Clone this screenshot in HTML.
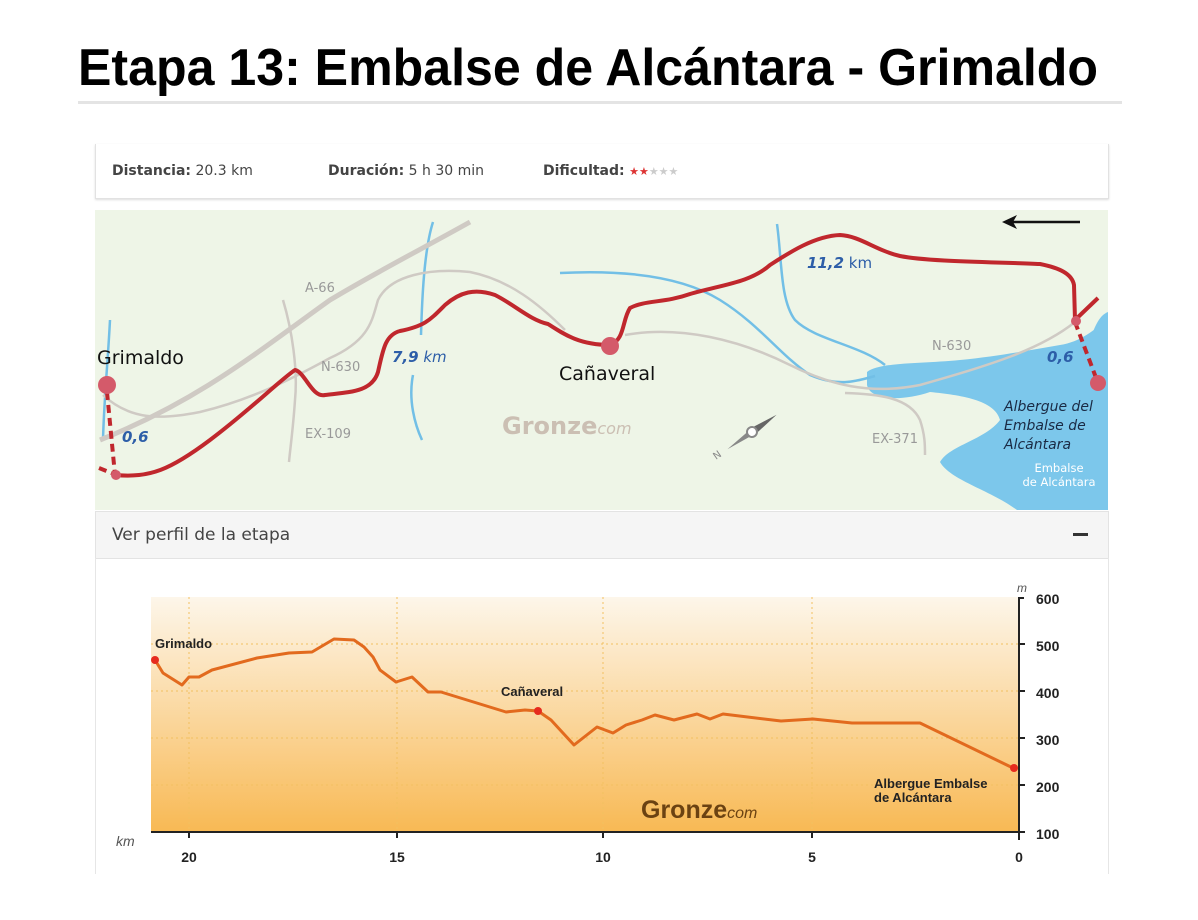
<!DOCTYPE html>
<html><head><meta charset="utf-8"><style>
body{margin:0;background:#fff;width:1198px;height:920px;overflow:hidden;position:relative;font-family:"Liberation Sans","DejaVu Sans",sans-serif}
.hr{position:absolute;left:78px;top:101px;width:1044px;height:3px;background:#e4e4e4}
.info{position:absolute;left:95px;top:144px;width:1012px;height:54px;border:1px solid #e2e2e2;border-top:none;box-shadow:0 1px 2px #ddd;font-family:"DejaVu Sans",sans-serif;font-size:14px;color:#444}
.info span{position:absolute;top:19px}
.bar{position:absolute;left:95px;top:511px;width:1012px;height:46px;background:#f5f5f5;border:1px solid #e3e3e3;font-family:"DejaVu Sans",sans-serif;font-size:17px;color:#444}
.prof{position:absolute;left:95px;top:558px;width:1012px;height:316px;border-left:1px solid #e6e6e6;border-right:1px solid #e6e6e6}
</style></head><body>
<div class="hr"></div>
<div class="info">
<span style="left:16px"><b>Distancia:</b> 20.3 km</span>
<span style="left:232px"><b>Duración:</b> 5 h 30 min</span>
<span style="left:447px"><b>Dificultad:</b> <span style="position:static;color:#d33;font-size:11px">★★</span><span style="position:static;color:#ccc;font-size:11px">★★★</span></span>
</div>
<svg style="position:absolute;left:0;top:0" width="1198" height="920">
<text x="78" y="85" font-size="52" font-weight="bold" font-family="Liberation Sans,sans-serif" fill="#000" textLength="1020" lengthAdjust="spacingAndGlyphs">Etapa 13: Embalse de Alcántara - Grimaldo</text>
<rect x="95" y="210" width="1013" height="300" fill="#eef5e7"/>
<path d="M867,372 C880,362 920,364 960,360 C1000,356 1030,350 1060,345 C1080,342 1095,330 1108,318 L1108,510 L1017,510 C990,490 950,480 940,462 C950,445 985,440 1000,420 C995,400 960,395 930,392 C900,402 870,400 867,385 Z" fill="#7cc7eb"/>
<path d="M1090,340 C1095,325 1100,315 1108,312 L1108,350 C1100,352 1092,350 1090,340Z" fill="#7cc7eb"/>
<g fill="none" stroke="#72bfe6" stroke-width="2.5">
<path d="M110,320 C108,360 104,400 103,440"/>
<path d="M433,222 C424,250 422,300 421,335 M413,375 C408,400 415,425 422,440"/>
<path d="M560,273 C620,270 680,275 720,300 C760,325 780,355 810,375 C840,388 860,380 875,376"/>
<path d="M777,224 C782,260 780,300 795,320 C815,340 860,345 885,365"/>
</g>
<g fill="none" stroke="#cfcac4" stroke-width="2.5">
<path d="M103,395 C130,420 160,420 200,412 C250,400 290,380 330,358 C370,340 372,320 378,300 C390,275 430,268 470,272 C510,280 540,305 565,330"/>
<path d="M625,335 C680,325 740,340 790,365 C830,385 870,395 920,385 C990,365 1040,350 1075,322"/>
<path d="M845,393 C880,394 910,398 920,420 C925,435 925,445 925,455"/>
<path d="M283,300 C292,330 298,370 295,400 C293,430 290,450 289,462"/>
</g>
<path d="M470,222 C420,250 380,270 330,300 C260,350 200,400 100,440" fill="none" stroke="#cfcac4" stroke-width="5"/>
<path d="M115,475 C150,478 170,470 210,440 C250,410 280,380 295,370 C305,372 312,398 325,395 C350,392 372,392 378,372 C383,350 385,335 400,331 C425,326 430,320 445,305 C460,292 475,288 495,295 C515,305 530,320 548,324 C565,335 580,345 610,345 C625,340 622,320 630,308 C645,300 665,303 690,294 C720,285 750,283 770,265 C790,252 815,236 840,235 C860,236 875,250 900,256 C930,262 1000,262 1040,264 C1060,268 1072,274 1074,285 L1075,320 L1098,298" fill="none" stroke="#c0272d" stroke-width="4" stroke-linejoin="round"/>
<g stroke="#c0272d" stroke-width="4" stroke-dasharray="8,5" fill="none">
<path d="M107,392 L115,475"/><path d="M99,468 L114,474"/><path d="M1075,322 L1098,383"/>
</g>
<g fill="#d45a6a"><circle cx="107" cy="385" r="9"/><circle cx="610" cy="346" r="9"/><circle cx="1098" cy="383" r="8"/><circle cx="1076" cy="321" r="5"/><circle cx="116" cy="475" r="5"/></g>
<path d="M1080,222 L1010,222" stroke="#111" stroke-width="2.5"/><path d="M1002,222 L1017,215 L1013,222 L1017,229Z" fill="#111"/>
<g font-family="DejaVu Sans,sans-serif">
<text x="97" y="364" font-size="19" fill="#111">Grimaldo</text>
<text x="559" y="380" font-size="19" fill="#111">Cañaveral</text>
<text x="305" y="292" font-size="13" fill="#999">A-66</text>
<text x="321" y="371" font-size="13" fill="#999">N-630</text>
<text x="305" y="438" font-size="13" fill="#999">EX-109</text>
<text x="932" y="350" font-size="13" fill="#999">N-630</text>
<text x="872" y="443" font-size="13" fill="#999">EX-371</text>
<text x="122" y="442" font-size="15" fill="#2d5ea8" font-weight="bold" font-style="italic">0,6</text>
<text x="392" y="362" font-size="15" fill="#2d5ea8" font-style="italic"><tspan font-weight="bold">7,9</tspan> km</text>
<text x="807" y="268" font-size="15" fill="#2d5ea8"><tspan font-weight="bold" font-style="italic">11,2</tspan> km</text>
<text x="1047" y="362" font-size="15" fill="#2d5ea8" font-weight="bold" font-style="italic">0,6</text>
<text x="1004" y="411" font-size="14" fill="#1a2a44" font-style="italic">Albergue del</text>
<text x="1004" y="430" font-size="14" fill="#1a2a44" font-style="italic">Embalse de</text>
<text x="1004" y="449" font-size="14" fill="#1a2a44" font-style="italic">Alcántara</text>
<text x="1059" y="472" font-size="11.5" fill="#fff" text-anchor="middle">Embalse</text>
<text x="1059" y="486" font-size="11.5" fill="#fff" text-anchor="middle">de Alcántara</text>
<text x="502" y="434" font-size="24" fill="#cbbfb3" font-weight="bold">Gronze<tspan font-size="16" font-weight="normal" font-style="italic">com</tspan></text>
</g>
<g transform="translate(752,432) rotate(-35)" fill="#888"><path d="M-30,0 L0,-3 L0,3Z"/><path d="M30,0 L0,-4 L0,4Z" fill="#666"/><circle r="5" fill="#fff" stroke="#888" stroke-width="2"/></g>
<text x="716" y="460" font-size="10" fill="#888" font-family="DejaVu Sans" transform="rotate(-35 716 460)">N</text>
<defs><linearGradient id="g" x1="0" y1="0" x2="0" y2="1"><stop offset="0" stop-color="#fdf6ea"/><stop offset="1" stop-color="#f8b954"/></linearGradient></defs>
<rect x="151" y="597" width="868" height="235" fill="url(#g)"/>
<g stroke="#f2c060" stroke-width="1" stroke-dasharray="2,3">
<path d="M151,644H1019M151,691H1019M151,738H1019M151,785H1019"/>
<path d="M189,597V832M397,597V832M603,597V832M812,597V832"/>
</g>
<path d="M151,832H1019" stroke="#222" stroke-width="2"/>
<path d="M1019,597V840M1019,598h5" stroke="#222" stroke-width="2"/>
<g stroke="#222" stroke-width="2"><path d="M1019,644h6M1019,691h6M1019,738h6M1019,785h6M1019,832h6M189,832v6M397,832v6M603,832v6M812,832v6"/></g>
<path d="M155,660 L163,673 L182,685 L189,677 L199,677 L212,670 L257,658 L289,653 L312,652 L334,639 L354,640 L364,647 L373,657 L380,670 L396,682 L412,677 L428,692 L441,692 L506,712 L525,710 L538,711 L551,720 L574,745 L597,727 L613,733 L626,725 L642,720 L655,715 L674,720 L697,714 L710,719 L723,714 L781,721 L813,719 L852,723 L920,723 L1013,768" fill="none" stroke="#e26a1e" stroke-width="3" stroke-linejoin="round"/>
<g fill="#e62b1e"><circle cx="155" cy="660" r="4"/><circle cx="538" cy="711" r="4"/><circle cx="1014" cy="768" r="4"/></g>
<g font-family="Liberation Sans,sans-serif" font-weight="bold" font-size="13" fill="#222">
<text x="155" y="648">Grimaldo</text>
<text x="501" y="696">Cañaveral</text>
<text x="874" y="788">Albergue Embalse</text>
<text x="874" y="802">de Alcántara</text>
<text x="1036" y="604" font-size="14">600</text><text x="1036" y="651" font-size="14">500</text><text x="1036" y="698" font-size="14">400</text><text x="1036" y="745" font-size="14">300</text><text x="1036" y="792" font-size="14">200</text><text x="1036" y="839" font-size="14">100</text>
<text x="189" y="862" text-anchor="middle" font-size="14">20</text><text x="397" y="862" text-anchor="middle" font-size="14">15</text><text x="603" y="862" text-anchor="middle" font-size="14">10</text><text x="812" y="862" text-anchor="middle" font-size="14">5</text><text x="1019" y="862" text-anchor="middle" font-size="14">0</text>
<text x="641" y="818" font-size="25" fill="#6b4212">Gronze<tspan font-size="16" font-weight="normal" font-style="italic">com</tspan></text>
</g>
<text x="116" y="846" font-size="14" font-style="italic" fill="#555" font-family="Liberation Sans">km</text>
<text x="1017" y="592" font-size="12" font-style="italic" fill="#555" font-family="Liberation Sans">m</text>
</svg>
<div class="bar"><span style="position:absolute;left:16px;top:13px">Ver perfil de la etapa</span><span style="position:absolute;right:20px;top:21px;width:15px;height:3px;background:#333"></span></div>
<div class="prof"></div>
</body></html>
